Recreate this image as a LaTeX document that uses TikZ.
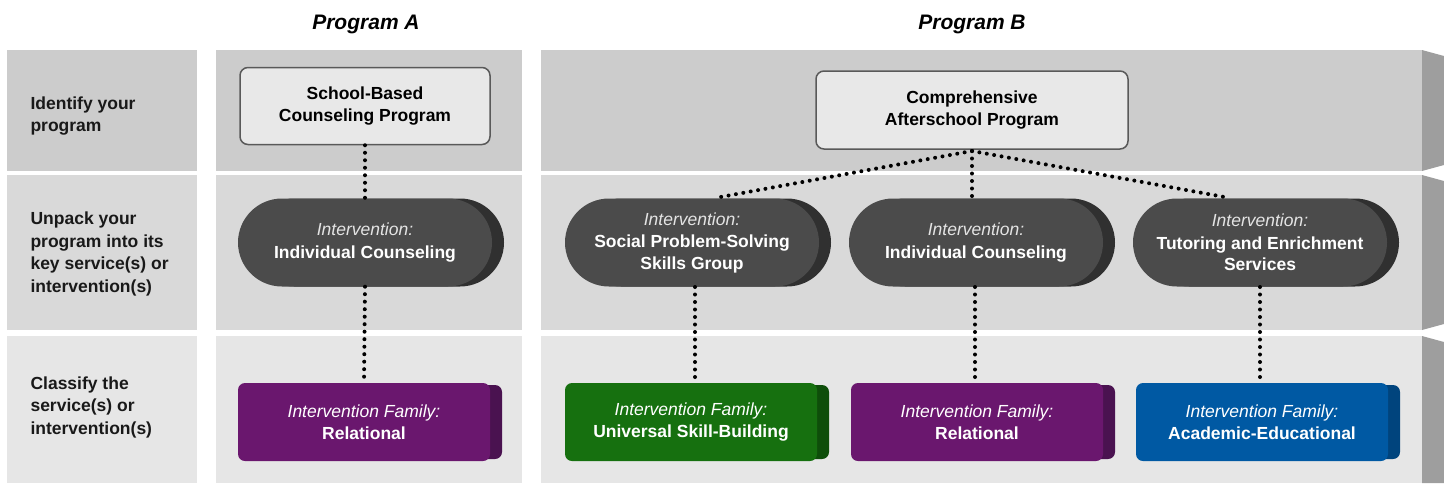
\documentclass[tikz,border=0pt]{standalone}
\usepackage{fontspec}
\setmainfont{Liberation Sans}
\definecolor{bandA}{HTML}{CCCCCC}
\definecolor{bandB}{HTML}{D9D9D9}
\definecolor{bandC}{HTML}{E6E6E6}
\definecolor{sidegray}{HTML}{9E9E9E}
\definecolor{boxfill}{HTML}{E8E8E8}
\definecolor{boxline}{HTML}{595959}
\definecolor{pillmain}{HTML}{4B4B4B}
\definecolor{pillshade}{HTML}{303030}
\definecolor{purplemain}{HTML}{6A176E}
\definecolor{purpleside}{HTML}{4A1250}
\definecolor{greenmain}{HTML}{16700F}
\definecolor{greenside}{HTML}{0E4E0A}
\definecolor{bluemain}{HTML}{0059A3}
\definecolor{blueside}{HTML}{00447D}
\definecolor{itgray}{HTML}{E4E4E4}
\newcommand{\mainfs}{\fontsize{17.5pt}{22.5pt}\selectfont}
\begin{document}
\begin{tikzpicture}[x=1pt,y=-1pt,
  progbox/.style={draw=boxline, line width=1.5pt, fill=boxfill, rounded corners=8pt,
    minimum width=250pt, minimum height=77pt, align=center, font=\mainfs\bfseries, text=black},
  pillshadow/.style={fill=pillshade, rounded corners=44pt, minimum width=254pt, minimum height=88pt},
  pill/.style={fill=pillmain, rounded corners=44pt, minimum width=254pt, minimum height=88pt,
    align=center, text=white, font=\mainfs},
  famside/.style={rounded corners=7pt, minimum width=252pt, minimum height=74pt},
  fambox/.style={rounded corners=7pt, minimum width=252pt, minimum height=78pt,
    align=center, text=white, font=\mainfs},
  steplabel/.style={anchor=west, align=left, font=\mainfs\bfseries, text=black!90},
  progtitle/.style={font=\fontsize{21pt}{24pt}\selectfont\bfseries\itshape, text=black},
  dotline/.style={line width=4pt, line cap=round, dash pattern=on 0pt off 7.5pt, black}
]
\useasboundingbox (0,0) rectangle (1444,483);
% bands
\fill[bandA] (7,50) rectangle (197,171);
\fill[bandB] (7,175) rectangle (197,330);
\fill[bandC] (7,336) rectangle (197,483);
\fill[bandA] (216,50) rectangle (522,171);
\fill[bandB] (216,175) rectangle (522,330);
\fill[bandC] (216,336) rectangle (522,483);
\fill[bandA] (541,50) rectangle (1422,171);
\fill[bandB] (541,175) rectangle (1422,330);
\fill[bandC] (541,336) rectangle (1422,483);
\fill[sidegray] (1422,50) -- (1444,56) -- (1444,165) -- (1422,171) -- cycle;
\fill[sidegray] (1422,175) -- (1444,181) -- (1444,324) -- (1422,330) -- cycle;
\fill[sidegray] (1422,336) -- (1444,342) -- (1444,483) -- (1422,483) -- cycle;
% titles
\node[progtitle] (titleA) at (366,24) {Program A};
\node[progtitle] (titleB) at (972,24) {Program B};
% step labels
\node[steplabel] (lab1) at (27,116) {Identify your\\program};
\node[steplabel] (lab2) at (27,254) {Unpack your\\program into its\\key service(s) or\\intervention(s)};
\node[steplabel] (lab3) at (27,407) {Classify the\\service(s) or\\intervention(s)};
% program boxes
\node[progbox] (progA) at (365,106) {School-Based\\Counseling Program};
\node[progbox, minimum width=312pt, minimum height=78pt] (progB) at (972,110) {Comprehensive\\Afterschool Program};
% pills
\node[pillshadow] (pAs) at (377,242.5) {};
\node[pill] (pA) at (365,242.5) {\textit{\color{itgray}Intervention:}\\\textbf{Individual Counseling}};
\node[pillshadow] (pB1s) at (704,242.5) {};
\node[pill] (pB1) at (692,242.5) {\textit{\color{itgray}Intervention:}\\\textbf{Social Problem-Solving}\\[-1pt]\textbf{Skills Group}};
\node[pillshadow] (pB2s) at (988,242.5) {};
\node[pill] (pB2) at (976,242.5) {\textit{\color{itgray}Intervention:}\\\textbf{Individual Counseling}};
\node[pillshadow] (pB3s) at (1272,242.5) {};
\node[pill] (pB3) at (1260,242.5) {\textit{\color{itgray}Intervention:}\\\textbf{Tutoring and Enrichment}\\[-1pt]\textbf{Services}};
% family boxes
\node[famside, fill=purpleside] (fAs) at (376,422) {};
\node[fambox, fill=purplemain] (fA) at (364,422) {\textit{Intervention Family:}\\\textbf{Relational}};
\node[famside, fill=greenside] (fB1s) at (703,422) {};
\node[fambox, fill=greenmain] (fB1) at (691,422) {\textit{Intervention Family:}\\\textbf{Universal Skill-Building}};
\node[famside, fill=purpleside] (fB2s) at (989,422) {};
\node[fambox, fill=purplemain] (fB2) at (977,422) {\textit{Intervention Family:}\\\textbf{Relational}};
\node[famside, fill=blueside] (fB3s) at (1274,422) {};
\node[fambox, fill=bluemain] (fB3) at (1262,422) {\textit{Intervention Family:}\\\textbf{Academic-Educational}};
% connectors
\coordinate (hubB) at (972,151);
\coordinate (tB1) at (715,198);
\coordinate (tB3) at (1230,198);
\draw[dotline] (progA.south) -- (pA.north);
\draw[dotline] (pA.south) -- (fA.north);
\draw[dotline] (hubB) -- (tB1);
\draw[dotline] (hubB) -- (pB3.north -| hubB);
\draw[dotline] (hubB) -- (tB3);
\coordinate (sB1) at (695,287);
\coordinate (sB2) at (975,287);
\coordinate (sB3) at (1260,287);
\draw[dotline] (sB1) -- (fB1.north -| sB1);
\draw[dotline] (sB2) -- (fB2.north -| sB2);
\draw[dotline] (sB3) -- (fB3.north -| sB3);
\end{tikzpicture}
\end{document}
